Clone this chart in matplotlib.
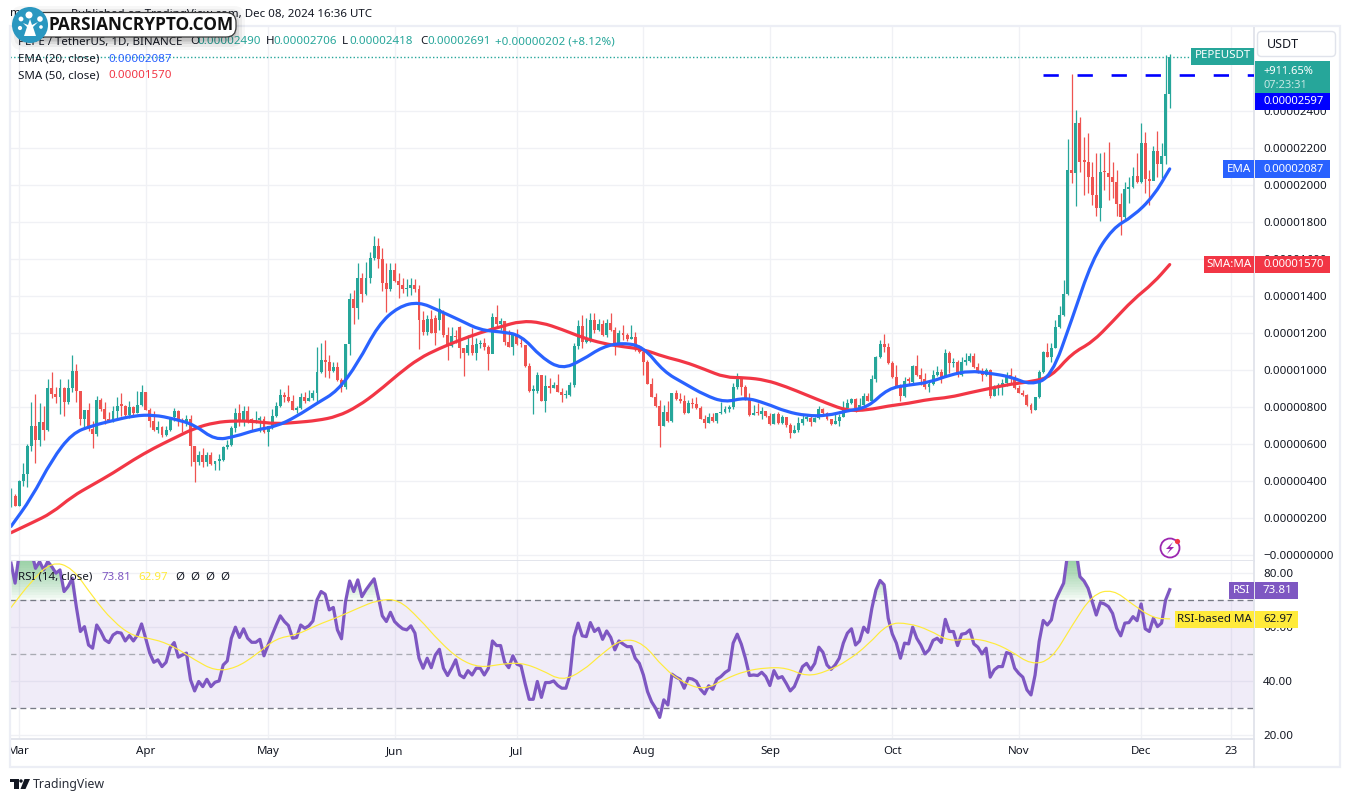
import numpy as np
import matplotlib
matplotlib.use("Agg")
import matplotlib.pyplot as plt
from matplotlib.path import Path
from matplotlib.patches import Rectangle, FancyBboxPatch, Circle, Polygon, PathPatch

plt.rcParams['font.family'] = ['Noto Sans', 'DejaVu Sans']

# prices are in units of 0.00000001
closes = [317,267,398,439,591,699,623,720,677,904,873,852,904,825,904,996,889,736,785,681,
          655,839,789,735,726,780,807,803,758,799,767,812,880,785,722,677,693,650,677,745,
          776,722,717,735,587,501,542,504,542,492,510,515,582,596,688,769,722,778,727,722,
          731,735,664,695,753,805,866,852,832,785,794,855,835,848,875,988,1055,1046,997,1019,
          947,907,1141,1384,1336,1498,1411,1498,1606,1672,1599,1473,1437,1541,1482,1460,
          1437,1441,1459,1437,1270,1207,1274,1202,1202,1328,1189,1130,1184,1176,1117,1090,1135,1090,1140,1144,
          1126,1086,1284,1248,1266,1153,1126,1194,1140,1135,1022,887,888,973,834,914,905,919,883,865,
          865,919,1130,1238,1153,1166,1270,1216,1248,1189,1252,1216,1144,1202,1189,1166,1180,1112,1099,1045,
          924,856,806,699,775,726,878,842,834,766,824,816,793,734,716,748,726,766,771,789,
          802,906,950,910,847,757,766,761,780,753,708,762,712,748,703,662,676,712,737,743,
          721,743,789,766,734,708,726,748,793,820,842,793,811,860,834,950,1068,1140,1126,1036,
          960,914,860,941,937,1022,973,950,910,924,973,991,964,1094,1036,1045,973,1045,1050,1076,
          1018,991,973,1000,860,906,919,928,973,960,901,878,865,811,784,852,991,1099,1072,1117,
          1234,1299,1412,2082,2064,2334,2127,2122,2046,1947,1875,2069,2064,2042,2019,1898,1826,1978,1988,2050,
          2019,2226,2032,2023,2185,2114,2158,2490,2691]
highs = [362,331,407,497,600,828,871,821,807,952,990,911,952,911,952,1082,1033,889,785,823,
         722,861,848,828,772,803,852,875,812,832,807,888,920,880,794,776,722,695,695,745,
         794,785,740,758,758,587,560,578,555,555,510,547,587,623,695,794,817,808,803,740,
         778,749,753,695,790,830,898,884,920,866,803,875,879,893,893,1123,1145,1163,1082,1046,
         1046,956,1141,1419,1433,1581,1523,1584,1638,1725,1714,1658,1581,1581,1577,1527,
         1500,1490,1500,1490,1459,1320,1297,1324,1297,1387,1324,1234,1234,1216,1238,1117,1189,1229,1171,1162,
         1171,1135,1310,1351,1279,1265,1216,1198,1220,1171,1135,1036,919,987,973,973,955,937,978,901,
         892,937,1144,1270,1297,1279,1306,1306,1274,1270,1274,1311,1230,1216,1243,1202,1243,1207,1135,1117,
         1054,955,874,838,811,834,878,892,874,865,838,847,852,806,757,770,770,766,829,806,
         811,928,982,955,919,874,811,820,802,775,766,770,775,757,739,716,703,748,757,761,
         752,748,806,795,775,737,761,761,833,842,847,847,847,878,878,973,1076,1162,1194,1148,
         1050,1027,924,960,964,1027,1081,1009,982,937,1000,1022,1004,1112,1104,1063,1054,1068,1090,1090,
         1090,1040,1009,1013,1004,919,928,950,991,1009,973,919,892,870,820,856,1000,1104,1148,1144,
         1270,1344,1488,2249,2600,2406,2370,2258,2280,2127,2172,2172,2181,2235,2127,2082,1956,2015,2046,2100,
         2172,2334,2289,2082,2212,2293,2226,2703,2706]
lows = [259,263,267,371,367,560,497,587,623,673,848,821,763,754,814,879,825,702,681,668,
        580,646,776,709,722,717,740,749,753,740,758,767,803,785,691,668,659,637,645,673,
        722,695,666,695,483,393,488,475,483,488,461,461,506,573,587,663,695,695,713,673,
        713,663,659,592,681,745,799,828,828,785,767,790,821,835,839,825,983,965,956,987,
        943,884,897,1084,1249,1276,1370,1406,1469,1595,1550,1428,1316,1429,1474,1388,
        1415,1400,1405,1423,1115,1189,1189,1202,1135,1216,1176,1054,1126,1144,1063,969,1081,1081,1054,1117,
        1108,1000,1126,1234,1216,1135,1122,1081,1135,1126,1018,883,762,878,834,775,874,901,883,829,
        847,860,910,1112,1117,1148,1153,1202,1212,1185,1176,1212,1083,1135,1162,1158,1166,1104,1090,973,
        924,852,802,586,698,721,721,838,820,762,766,793,788,734,685,712,721,712,762,766,
        775,788,896,865,838,753,757,757,734,748,703,708,708,708,694,635,658,667,703,725,
        698,719,734,762,730,705,708,699,748,780,816,775,784,806,833,838,937,1063,1099,1032,
        955,910,833,852,919,932,969,919,896,883,919,968,932,960,982,1018,964,968,1027,1045,
        1009,982,942,968,847,860,865,865,914,924,896,874,860,806,770,784,847,986,1068,1045,
        1117,1227,1290,1407,2010,1884,2073,1947,1956,1893,1830,1808,1974,1920,1929,1830,1731,1803,1902,1983,
        2010,2010,1956,1893,2032,2046,2037,2114,2418]
# candles that did not open at the previous close
open_gaps = {0: 263, 104: 1279, 105: 1270, 106: 1315, 110: 1234, 240: 1000}

ma_days = list(range(0, 285, 5)) + [284]
ema20 = [155,308,515,659,700,727,753,758,736,704,621,641,677,695,749,821,886,1037,1244,1343,
         1369,1320,1270,1216,1207,1189,1068,1004,1054,1126,1148,1126,991,928,865,825,852,820,775,753,
         753,780,798,901,919,933,973,996,982,964,919,964,1272,1596,1767,1830,1938,2087]
sma50 = [121,173,227,317,380,443,515,578,632,686,717,726,722,709,717,727,749,803,884,979,
         1063,1117,1162,1202,1234,1265,1257,1220,1176,1144,1126,1112,1072,1045,1004,960,959,946,910,865,
         820,780,784,806,820,842,852,878,901,924,937,964,1090,1150,1262,1380,1470,1570]

rsi = [83.6,76.2,87,88,88,88,81.7,84.2,81.1,84.2,82.3,79.9,81.1,73.1,75,78,67.5,58.3,60.1,53.3,
       52.1,60.7,58.3,55.2,54.2,57,58,57.7,54.8,56.8,54.8,57,61.1,55.8,50.3,46.9,47.8,45.3,46.9,52.3,
       54.2,48.8,49.6,50.3,40.4,36.3,39.8,37.9,40.6,37.9,39.5,40,45.9,47.4,55.8,59.9,56.1,59.3,55.8,54.3,
       54.3,55.4,49.3,53.3,57,60.7,64.1,62,60.5,55.8,56.1,60.7,59.5,60.4,62.2,70,73.1,72.1,66.3,67.2,
       58.9,55.6,69.4,77,73.1,77.4,71.2,73.7,75.8,77.8,71.2,64.1,62,65.4,62,60.5,59.3,58.9,60.4,57.7,
       48.4,44.7,48.4,44.9,49.6,51.7,44.7,42,44.7,47.8,42.2,41.2,43.8,42.2,44.7,44.7,42.2,44.7,54.8,53.1,
       53.1,46.9,44.9,49.3,46.2,45.6,39.1,33.2,33.2,39.8,33.9,39.4,39.4,40,38.3,37.3,37.3,42.2,56.4,61.4,
       56.7,56.4,61.6,58.3,59.5,55.4,58.5,56.1,51.5,54.8,53.7,52.7,52.7,48.4,46.5,42.2,36.1,32.3,29.9,26.5,
       33,31.1,42.5,41.4,40.6,37.3,41,40.7,39.8,36.9,35.2,38.2,36.9,40.6,41.6,43.1,44.1,54,57.3,53.6,
       48.4,42,42.2,42,43.2,41.6,38.3,43.8,41,41.6,39.1,36.3,37.9,41.6,45.3,46.5,44.1,46.5,52.5,50.6,
       45.9,44.3,45.9,48.4,54,57.7,59.3,53.3,54.8,59.9,58,66.9,73.7,77.2,75.6,63.2,57.4,54,48.4,54,
       53.7,59.9,55.8,53.3,50,51.5,55,55.8,54.2,62.8,58.3,58.3,53.1,57.3,57.6,58.9,53.7,52.5,50,52.1,
       41.4,44.1,45.3,45.3,50.5,50,44.7,42.8,41.4,36.7,34.8,42.2,54.6,62.4,60.7,62.6,69.8,73.1,76.2,87.3,
       88.5,88.5,78.6,77,74.3,69.4,64.4,69,68.5,67.5,65,59.5,56.7,61.4,61.6,63.8,62.3,68.5,59.3,58.3,
       63.2,60.1,61.4,70,73.81]
rsi_ma = [67.2,77,84.2,82,71.2,62,56.4,55.6,52.7,47.8,43.7,44.7,49.6,55.8,57,60.7,63.5,66.9,70,70.2,63.2,54.6,
          47.8,44.9,46.2,46.8,44.1,40,43.5,50.3,55.8,54,44.7,39.1,36.7,40.7,43.7,44.9,44.9,41.6,43.5,47.4,53.3,61.4,
          61.4,58.9,54.6,55.8,54.6,51.2,46,47.8,60.4,71.9,74,68.2,63.2,62.97]

last_price = 2691
marked_price = 2597
marked_from = 253
price_ticks = list(range(0, 2600, 200))
rsi_ticks = [20, 40, 60, 80]
month_days = [2, 33, 63, 94, 124, 155, 186, 216, 247, 277, 299]
month_labels = ['Mar', 'Apr', 'May', 'Jun', 'Jul', 'Aug', 'Sep', 'Oct', 'Nov', 'Dec', '23']

GREEN = '#26a69a'
RED = '#ef5350'
BLUE = '#2962ff'
SMA_RED = '#f23645'
PURPLE = '#7e57c2'
YELLOW = '#ffeb3b'
GRID = '#f0f1f5'
EDGE = '#e0e3eb'
TEXT = '#131722'
W, H = 1350, 802
FS = 8.3

closes = np.array(closes, dtype=float)
opens = np.concatenate([[closes[0]], closes[:-1]])
for k, v in open_gaps.items():
    opens[k] = v
days = np.arange(len(closes))
rsi = np.array(rsi)

fig = plt.figure(figsize=(W / 100, H / 100), dpi=100, facecolor='white')


def pane(top, bottom):
    return fig.add_axes([10 / W, 1 - bottom / H, 1244 / W, (bottom - top) / H])


def smooth_line(a, xs, ys, color, lw, zorder):
    # quadratic curve through the midpoints, the read points act as control points
    pts = np.column_stack([xs, ys])
    mids = (pts[:-1] + pts[1:]) / 2
    verts = [pts[0], mids[0]]
    codes = [Path.MOVETO, Path.LINETO]
    for p, m in zip(pts[1:-1], mids[1:]):
        verts += [p, m]
        codes += [Path.CURVE3, Path.CURVE3]
    verts.append(pts[-1])
    codes.append(Path.LINETO)
    a.add_patch(PathPatch(Path(verts, codes), facecolor='none', edgecolor=color, lw=lw,
                          capstyle='round', zorder=zorder))


ax = pane(27, 561)
ax2 = pane(561, 739)
xlim = (-0.25, 304.66)

# price pane
ax.set_xlim(xlim)
ax.set_ylim(-32, 2854)
colors = [GREEN if c >= o else RED for o, c in zip(opens, closes)]
ax.vlines(days, lows, highs, colors=colors, lw=0.9, zorder=2)
heights = closes - opens
heights = np.where(np.abs(heights) < 8, 8, heights)
ax.bar(days, heights, bottom=opens, width=0.72, color=colors, linewidth=0, zorder=3)
smooth_line(ax, ma_days, sma50, SMA_RED, 2.3, 4)
smooth_line(ax, ma_days, ema20, BLUE, 2.3, 5)
ax.axhline(last_price, color=GREEN, lw=1.0, ls=(0, (1, 1.6)), zorder=1)
ax.plot([marked_from, xlim[1]], [marked_price, marked_price], color='#0000ff', lw=1.9,
        ls=(0, (5.8, 7.1)), dash_capstyle='butt', zorder=6)
ax.set_yticks(price_ticks)
ax.set_yticklabels(['\u22120.00000000'] + [f'{p * 1e-8:.8f}' for p in price_ticks[1:]])

# rsi pane
ax2.set_xlim(xlim)
ax2.set_ylim(18.5, 84.4)
ax2.axhspan(30, 70, color=PURPLE, alpha=0.11, lw=0, zorder=1)
for level in np.arange(70, 85, 1.0):
    ax2.fill_between(days, level, np.maximum(rsi, level), color='#5cb870', alpha=0.055, lw=0,
                     interpolate=True, zorder=1.5)
for level, col in [(70, '#787b86'), (50, '#a9abb3'), (30, '#787b86')]:
    ax2.axhline(level, color=col, lw=0.95, ls=(0, (4.5, 3)), zorder=2)
ax2.plot(days, rsi, color=PURPLE, lw=2.3, zorder=3, solid_joinstyle='round')
smooth_line(ax2, ma_days, rsi_ma, YELLOW, 0.85, 4)
ax2.set_yticks(rsi_ticks)
ax2.set_yticklabels([f'{t:.2f}' for t in rsi_ticks])

for a in (ax, ax2):
    a.set_xticks(month_days)
    a.grid(True, color=GRID, lw=0.95, zorder=0)
    a.set_axisbelow(True)
    a.yaxis.tick_right()
    a.tick_params(axis='y', length=0, pad=6.5, labelsize=FS, labelcolor=TEXT)
    a.tick_params(axis='x', length=0)
    for s in ('top', 'left'):
        a.spines[s].set_visible(False)
    for s in ('right', 'bottom'):
        a.spines[s].set_color(EDGE)
        a.spines[s].set_linewidth(1.3)
ax.set_xticklabels([])
ax2.set_xticklabels(month_labels, fontsize=FS, color=TEXT)
ax2.tick_params(axis='x', pad=5)

# overlay in pixel coordinates for labels, logo and frame
ov = fig.add_axes([0, 0, 1, 1], zorder=10)
ov.set_xlim(0, W)
ov.set_ylim(H, 0)
ov.axis('off')
ov.patch.set_alpha(0)


def txt(x, y, s, color=TEXT, ha='left', size=FS, **kw):
    ov.text(x, y, s, color=color, ha=ha, va='center', fontsize=size, zorder=kw.pop('zorder', 6), **kw)


def box(x0, y0, x1, y1, color):
    ov.add_patch(Rectangle((x0, y0), x1 - x0, y1 - y0, facecolor=color, edgecolor='none', zorder=4))


# frame
ov.add_patch(Rectangle((0, 0), 9, 770, facecolor='white', edgecolor='none', zorder=1))
ov.add_patch(Rectangle((10, 26), 1330, 741, facecolor='none', edgecolor='#eceef5', lw=1.6, zorder=2))
ov.plot([1254, 1254], [739, 767], color=EDGE, lw=1.3, zorder=2)

# legend rows
txt(10, 14, 'm')
txt(372, 14, 'Published on TradingView.com, Dec 08, 2024 16:36 UTC', ha='right')
txt(18, 42, 'PEPE / TetherUS, 1D, BINANCE')
for x, letter, val in [(190, 'O', '0.00002490'), (266, 'H', '0.00002706'), (342, 'L', '0.00002418'), (420, 'C', '0.00002691')]:
    txt(x, 42, letter)
    txt(x + 7, 42, val, color=GREEN)
txt(495, 42, '+0.00000202 (+8.12%)', color=GREEN)
txt(18, 59, 'EMA (20, close)')
txt(108, 59, '0.00002087', color=BLUE)
txt(18, 76, 'SMA (50, close)')
txt(108, 76, '0.00001570', color=SMA_RED)
txt(18, 577, 'RSI (14, close)')
txt(102, 577, '73.81', color=PURPLE)
txt(138, 577, '62.97', color=YELLOW)
for x in (175, 190, 205, 220):
    txt(x, 577, '\u00d8')

# price scale labels
box(1191, 48, 1254, 65, GREEN)
txt(1222.5, 56, 'PEPEUSDT', color='white', ha='center')
ov.add_patch(FancyBboxPatch((1259, 33), 75, 22, boxstyle='round,pad=1.5,rounding_size=4',
                            facecolor='white', edgecolor=EDGE, lw=1, zorder=4))
txt(1267, 44, 'USDT', size=9)
box(1255, 61, 1330, 93, GREEN)
txt(1263, 71, '+911.65%', color='white', fontweight='bold', size=8)
txt(1263, 85, '07:23:31', color='#c6e8e4', size=8)
box(1255, 93, 1330, 110, '#0000ff')
txt(1263, 101, '0.00002597', color='white', fontweight='bold', size=8.1)
box(1223, 160, 1254, 178, BLUE)
box(1255, 160, 1330, 178, BLUE)
txt(1238.5, 169, 'EMA', color='white', ha='center')
txt(1263, 169, '0.00002087', color='white', fontweight='bold', size=8.1)
box(1204, 256, 1254, 273, SMA_RED)
box(1255, 256, 1330, 273, SMA_RED)
txt(1229, 264.5, 'SMA:MA', color='white', ha='center')
txt(1263, 264.5, '0.00001570', color='white', fontweight='bold', size=8.1)
box(1229, 582, 1254, 599, PURPLE)
box(1255, 582, 1298, 599, PURPLE)
txt(1241.5, 590.5, 'RSI', color='white', ha='center')
txt(1263, 590.5, '73.81', color='white')
box(1175, 611, 1254, 628, YELLOW)
box(1255, 611, 1298, 628, YELLOW)
txt(1214.5, 619.5, 'RSI-based MA', ha='center')
txt(1263, 619.5, '62.97')

# bolt badge
ov.add_patch(Circle((1170, 548), 9.5, facecolor='white', edgecolor='#9c27b0', lw=1.3, zorder=5))
ov.add_patch(Polygon([(1173, 542), (1166, 549), (1170, 549), (1167, 554), (1174, 547), (1170, 547)],
                     facecolor='#9c27b0', edgecolor='none', zorder=6))
ov.add_patch(Circle((1177.5, 541.5), 2.6, facecolor=SMA_RED, edgecolor='none', zorder=7))

# watermark logo
for pad, alpha in [(11, 0.03), (8, 0.05), (5, 0.07), (2.5, 0.10)]:
    ov.add_patch(FancyBboxPatch((22 - pad, 14 - pad + 3), 212 + 2 * pad, 22 + 2 * pad,
                                boxstyle='round,pad=0,rounding_size=11', facecolor='black',
                                edgecolor='none', alpha=alpha, zorder=7))
ov.add_patch(FancyBboxPatch((22, 12.5), 214, 24.5, boxstyle='round,pad=0,rounding_size=10',
                            facecolor='white', edgecolor='#3a3a3a', lw=0.9, zorder=8))
ov.text(48, 25.5, 'PARSIANCRYPTO.COM', color='#111111', fontsize=12.4, fontweight='bold',
        ha='left', va='center', zorder=9, family='Open Sans')
ov.add_patch(Circle((30, 25), 18, facecolor='#2a97c0', edgecolor='none', zorder=9))
ov.add_patch(Polygon([(24, 36), (27, 27), (23, 23), (28, 25), (30, 19), (32, 25), (38, 22), (33, 27), (36, 36)],
                     facecolor='white', edgecolor='none', zorder=10))
for cx, cy, r in [(29, 15, 3.5), (21, 19, 2.4), (40, 19, 2.8), (20, 28, 2.1), (41, 27, 1.8)]:
    ov.add_patch(Circle((cx, cy), r, facecolor='white', edgecolor='none', zorder=10))

# footer logo
ov.add_patch(Rectangle((10, 779), 9, 3.4, facecolor=TEXT, edgecolor='none'))
ov.add_patch(Rectangle((14, 779), 4.5, 10, facecolor=TEXT, edgecolor='none'))
ov.add_patch(Circle((21, 781), 1.7, facecolor=TEXT, edgecolor='none'))
ov.add_patch(Polygon([(24.5, 779), (30, 779), (25.5, 789), (20.5, 789)], facecolor=TEXT, edgecolor='none'))
txt(33, 784.5, 'TradingView', size=8.9, color='#2a2e39')

fig.savefig('out.png', dpi=100)
